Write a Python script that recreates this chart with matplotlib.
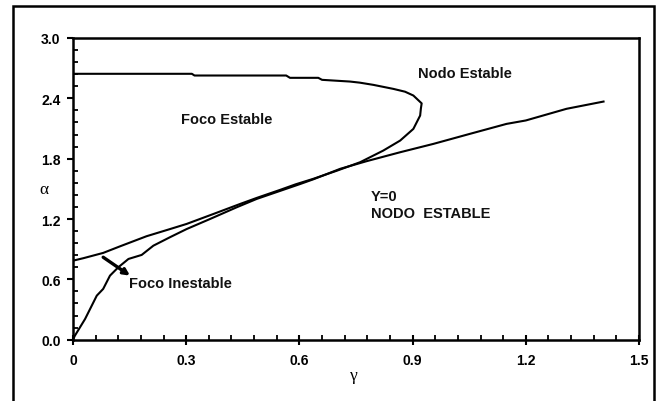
import matplotlib
matplotlib.use("Agg")
import matplotlib.pyplot as plt
from matplotlib.patches import Rectangle
from matplotlib.ticker import MultipleLocator, FixedLocator

# boundary of the stable-focus region (traced from top-left, round the nose, back to gamma=0)
gamma_foco = [0.0, 0.315, 0.322, 0.565, 0.575, 0.650, 0.660, 0.734, 0.760, 0.796,
              0.849, 0.880, 0.902, 0.924, 0.922, 0.920, 0.902, 0.867, 0.822, 0.761,
              0.699, 0.637, 0.590, 0.549, 0.487, 0.443, 0.372, 0.301, 0.257, 0.195,
              0.125, 0.080, 0.027, 0.0]
alpha_foco = [2.644, 2.644, 2.627, 2.627, 2.604, 2.604, 2.584, 2.567, 2.556, 2.534,
              2.494, 2.466, 2.428, 2.35, 2.30, 2.229, 2.096, 1.98, 1.88, 1.765,
              1.68, 1.60, 1.545, 1.49, 1.41, 1.35, 1.25, 1.151, 1.10, 1.029,
              0.929, 0.863, 0.81, 0.786]

# lower boundary (Y=0 stable node below it)
gamma_nodo = [0.0, 0.005, 0.032, 0.063, 0.080, 0.098, 0.120, 0.147, 0.182, 0.213,
              0.257, 0.301, 0.363, 0.434, 0.487, 0.602, 0.637, 0.708, 0.778, 0.867,
              0.955, 1.05, 1.149, 1.20, 1.308, 1.406]
alpha_nodo = [0.0, 0.04, 0.206, 0.438, 0.505, 0.637, 0.720, 0.803, 0.843, 0.935,
              1.019, 1.10, 1.20, 1.317, 1.40, 1.548, 1.595, 1.699, 1.775, 1.864,
              1.947, 2.045, 2.146, 2.18, 2.296, 2.368]

arrow_from = (0.080, 0.82)
arrow_to = (0.151, 0.637)

W, H = 657, 402
fig = plt.figure(figsize=(W / 100, H / 100), dpi=100)
fig.patch.set_facecolor("white")

# frame round the whole plot area
fig.patches.append(Rectangle((13 / W, -0.05), (654 - 13) / W, 1 - 7 / H + 0.05,
                             transform=fig.transFigure, fill=False,
                             edgecolor="black", lw=1.8))

ax = fig.add_axes([73 / W, 1 - 340.7 / H, (639 - 73) / W, (340.7 - 39) / H])

ax.plot(gamma_foco, alpha_foco, color="black", lw=1.5)
ax.plot(gamma_nodo, alpha_nodo, color="black", lw=1.5)
ax.annotate("", xy=arrow_to, xytext=arrow_from,
            arrowprops=dict(arrowstyle="-|>", color="black", lw=2.4,
                            mutation_scale=9, shrinkA=0, shrinkB=0))

bold = dict(fontsize=10.5, fontweight="bold", family="Liberation Sans", color="#111111")
ax.text(0.407, 2.19, "Foco Estable", ha="center", va="center", **bold)
ax.text(1.039, 2.648, "Nodo Estable", ha="center", va="center", **bold)
ax.text(0.149, 0.564, "Foco Inestable", ha="left", va="center", **bold)
ax.text(0.79, 1.43, "Y=0", ha="left", va="center", **bold)
ax.text(0.79, 1.26, "NODO  ESTABLE", ha="left", va="center", **bold)

ax.set_xlim(0, 1.5)
ax.set_ylim(0, 3.0)
ax.xaxis.set_major_locator(FixedLocator([0, 0.3, 0.6, 0.9, 1.2, 1.5]))
ax.set_xticklabels(["0", "0.3", "0.6", "0.9", "1.2", "1.5"])
ax.yaxis.set_major_locator(FixedLocator([0, 0.6, 1.2, 1.8, 2.4, 3.0]))
ax.set_yticklabels(["0.0", "0.6", "1.2", "1.8", "2.4", "3.0"])
ax.xaxis.set_minor_locator(MultipleLocator(0.06))
ax.yaxis.set_minor_locator(MultipleLocator(0.12))

for lab in ax.get_xticklabels() + ax.get_yticklabels():
    lab.set_fontweight("bold")
    lab.set_family("Liberation Sans")
    lab.set_fontsize(10)

ax.tick_params(axis="x", which="major", direction="inout", length=7, width=1.5, pad=6)
ax.tick_params(axis="y", which="major", direction="out", length=4, width=1.5, pad=5)
ax.tick_params(which="minor", direction="in", length=3.5, width=1.3)
ax.tick_params(top=False, right=False)

for s in ax.spines.values():
    s.set_linewidth(1.8)

fig.text(44 / W, 1 - 190 / H, "α", ha="center", va="center",
         fontsize=12.5, family="Liberation Serif")
fig.text(354 / W, 1 - 376 / H, "γ", ha="center", va="center",
         fontsize=12.5, family="Liberation Serif")

fig.savefig("out.png", dpi=100, facecolor="white")
